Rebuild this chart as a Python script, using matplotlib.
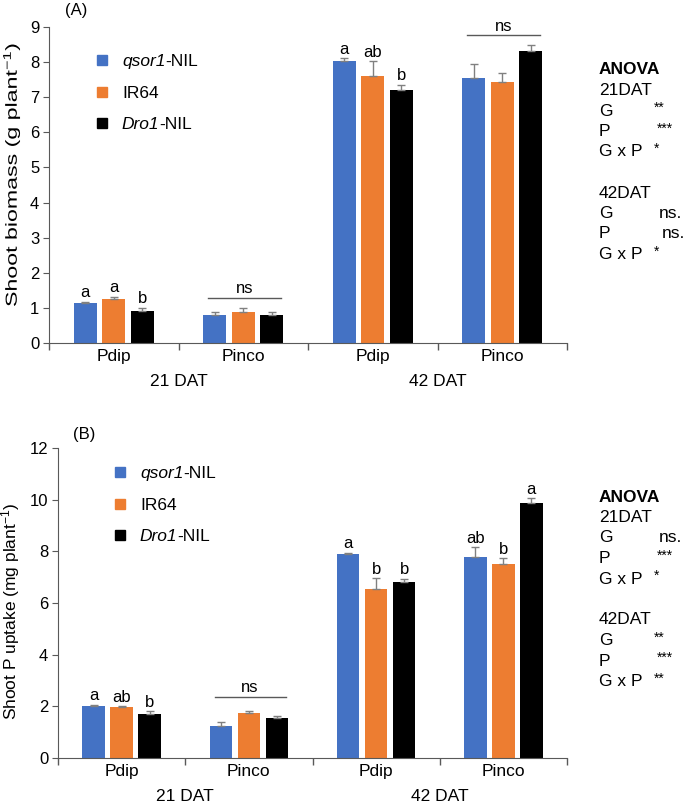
import numpy as np
import matplotlib
matplotlib.use('Agg')
import matplotlib.pyplot as plt
from matplotlib.lines import Line2D
from matplotlib import patheffects
from matplotlib.transforms import Affine2D

plt.rcParams['font.family'] = ['Liberation Sans', 'DejaVu Sans']
plt.rcParams['mathtext.fontset'] = 'custom'
plt.rcParams['mathtext.it'] = 'Liberation Sans:italic'
plt.rcParams['mathtext.rm'] = 'Liberation Sans'

# data
groups = ['Pdip', 'Pinco', 'Pdip', 'Pinco']
stages = ['21 DAT', '42 DAT']
genotypes = [('qsor1', '-NIL'), ('IR64', ''), ('Dro1', '-NIL')]
colors = ['#4472C4', '#ED7D31', '#000000']

biomass = [[1.13, 0.79, 8.03, 7.56],   # qsor1-NIL
           [1.25, 0.87, 7.60, 7.44],   # IR64
           [0.91, 0.79, 7.20, 8.31]]   # Dro1-NIL
biomass_err = [[0.05, 0.10, 0.09, 0.38],
               [0.07, 0.12, 0.42, 0.26],
               [0.10, 0.09, 0.16, 0.18]]
biomass_letters = [['a', '', 'a', ''],
                   ['a', '', 'ab', ''],
                   ['b', '', 'b', '']]
biomass_ns = [(1, 1.29), (3, 8.77)]

puptake = [[2.01, 1.25, 7.88, 7.78],
           [1.96, 1.73, 6.55, 7.51],
           [1.72, 1.53, 6.80, 9.87]]
puptake_err = [[0.05, 0.13, 0.06, 0.37],
               [0.05, 0.09, 0.41, 0.23],
               [0.09, 0.10, 0.14, 0.18]]
puptake_letters = [['a', '', 'a', 'ab'],
                   ['ab', '', 'b', 'b'],
                   ['b', '', 'b', 'a']]
puptake_ns = [(1, 2.38)]

anova_a = [('21DAT', [('G', '**'), ('P', '***'), ('G x P', '*')]),
           ('42DAT', [('G', 'ns.'), ('P', 'ns.'), ('G x P', '*')])]
anova_b = [('21DAT', [('G', 'ns.'), ('P', '***'), ('G x P', '*')]),
           ('42DAT', [('G', '**'), ('P', '***'), ('G x P', '**')])]

W, H = 685, 809
fig = plt.figure(figsize=(W / 100, H / 100), dpi=100)
FS = 12.5


class Stretch(patheffects.AbstractPathEffect):
    # stretch text along its own direction (the A label is elongated in the original)
    def __init__(self, sx):
        super().__init__()
        self.sx = sx

    def draw_path(self, renderer, gc, tpath, affine, rgbFace=None):
        renderer.draw_path(gc, tpath, Affine2D().scale(self.sx, 1) + affine, rgbFace)


def px(x0, y0, x1, y1):
    return [x0 / W, 1 - y1 / H, (x1 - x0) / W, (y1 - y0) / H]


def panel(rect, vals, errs, letters, ns, ymax, ystep, ylabel, ylab_xy, ylab_fs, stretch,
          tag, leg_xy, anova, anova_xy):
    ax = fig.add_axes(rect)
    step, width = 0.22, 0.175
    centers = np.arange(4) + 0.5
    for i in range(3):
        xs = centers + (i - 1) * step
        ax.bar(xs, vals[i], width, color=colors[i], zorder=2)
        ax.errorbar(xs, vals[i], yerr=[np.zeros(4), errs[i]], fmt='none',
                    ecolor='#808080', elinewidth=1, capsize=3, capthick=1, zorder=3)
        for j in range(4):
            if letters[i][j]:
                ax.annotate(letters[i][j], (xs[j], vals[i][j] + errs[i][j]),
                            xytext=(0, 1), textcoords='offset points',
                            ha='center', va='bottom', fontsize=12)
    for g, yv in ns:
        c = centers[g]
        ax.plot([c - 0.27, c + 0.29], [yv, yv], color='#595959', lw=1)
        ax.annotate('ns', (c + 0.01, yv), xytext=(0, 1), textcoords='offset points',
                    ha='center', va='bottom', fontsize=12)

    ax.set_xlim(0, 4)
    ax.set_ylim(0, ymax)
    ax.set_yticks(np.arange(0, ymax + 0.1, ystep))
    ax.set_xticks(np.arange(5))
    ax.set_xticklabels([])
    ax.set_xticks(centers, minor=True)
    ax.set_xticklabels(groups, minor=True, fontsize=FS)
    ax.tick_params(axis='x', which='minor', length=0, pad=4)
    ax.tick_params(axis='x', which='major', length=5, color='#595959', width=1)
    ax.tick_params(axis='y', length=4, color='#595959', labelsize=12, pad=3)
    for s in ['top', 'right']:
        ax.spines[s].set_visible(False)
    for s in ['left', 'bottom']:
        ax.spines[s].set_color('#595959')
    for k, st in enumerate(stages):
        ax.annotate(st, (1 + 2 * k, 0), xycoords=('data', 'axes fraction'),
                    xytext=(0, -28), textcoords='offset points',
                    ha='center', va='center', fontsize=FS)
    t = fig.text(ylab_xy[0] / W, 1 - ylab_xy[1] / H, ylabel, fontsize=ylab_fs, rotation=90,
                 rotation_mode='anchor', ha='left', va='center')
    if stretch != 1:
        t.set_path_effects([Stretch(stretch)])
    fig.text(tag[0] / W, 1 - tag[1] / H, tag[2], fontsize=12, va='center')

    handles = [Line2D([], [], marker='s', ls='none', color=c, markersize=7) for c in colors]
    leg = ax.legend(handles, [g[0] for g in genotypes], loc='center left', frameon=False,
                    bbox_to_anchor=(leg_xy[0] / W, 1 - leg_xy[1] / H),
                    bbox_transform=fig.transFigure, fontsize=FS, borderpad=0,
                    borderaxespad=0, handlelength=0.8, handletextpad=0.75,
                    labelspacing=0.95)
    for txt, (it, rest) in zip(leg.get_texts(), genotypes):
        if rest:
            txt.set_fontstyle('italic')
            ax.annotate(rest, xy=(1, 0), xycoords=txt, ha='left', va='bottom',
                        fontsize=FS, annotation_clip=False, zorder=10)

    x0, y0 = anova_xy
    lh = 20.5
    fig.text(x0 / W, 1 - y0 / H, 'ANOVA', fontsize=FS, fontweight='bold', va='center')
    row = 1
    for stage, items in anova:
        fig.text(x0 / W, 1 - (y0 + row * lh) / H, stage, fontsize=FS, va='center')
        row += 1
        for name, sig in items:
            yy = 1 - (y0 + row * lh) / H
            fig.text(x0 / W, yy, name, fontsize=FS, va='center')
            if sig.startswith('*'):
                fig.text((x0 + 55 + (3 if name == 'P' else 0)) / W, yy + 3 / H, sig,
                         fontsize=10, va='center')
            else:
                fig.text((x0 + 60 + (3 if name == 'P' else 0)) / W, yy, sig,
                         fontsize=FS, va='center')
            row += 1
        row += 1
    return ax


panel(px(49, 27, 567, 343), biomass, biomass_err, biomass_letters, biomass_ns,
      9, 1, 'Shoot biomass (g plant$^{\\mathrm{-1}}$)', (11, 307), 11.5, 1.45,
      (65, 10, '(A)'), (95, 93), anova_a, (599, 70))
panel(px(58, 448, 567, 758), puptake, puptake_err, puptake_letters, puptake_ns,
      12, 2, 'Shoot P uptake (mg plant$^{\\mathrm{-1}}$)', (11, 720), FS, 1.0,
      (73, 434, '(B)'), (113, 505), anova_b, (599, 497))

fig.savefig('out.png', dpi=100)
